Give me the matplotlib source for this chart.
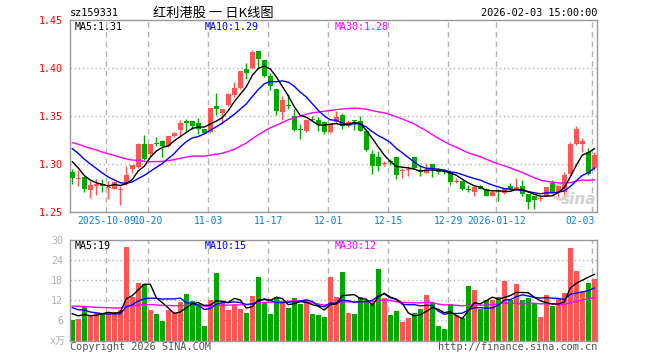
import numpy as np
import pandas as pd
import matplotlib.pyplot as plt

plt.rcParams['font.family'] = ['DejaVu Sans Mono', 'Noto Sans CJK SC']

# daily OHLC, 88 sessions
opens = [1.291, 1.284, 1.286, 1.272, 1.277, 1.279, 1.275, 1.274, 1.272, 1.280,
         1.294, 1.296, 1.321, 1.310, 1.322, 1.324, 1.318, 1.329, 1.335, 1.344,
         1.345, 1.342, 1.336, 1.333, 1.360, 1.353, 1.361, 1.372, 1.379, 1.399,
         1.400, 1.418, 1.408, 1.391, 1.378, 1.354, 1.361, 1.350, 1.3362, 1.334,
         1.347, 1.346, 1.343, 1.333, 1.343, 1.351, 1.339, 1.3448, 1.345, 1.334,
         1.310, 1.307, 1.300, 1.3025, 1.307, 1.292, 1.293, 1.307, 1.293, 1.290,
         1.300, 1.294, 1.2921, 1.290, 1.281, 1.282, 1.274, 1.270, 1.277, 1.274,
         1.266, 1.2718, 1.269, 1.277, 1.273, 1.277, 1.268, 1.266, 1.263, 1.266,
         1.280, 1.270, 1.270, 1.289, 1.321, 1.321, 1.312, 1.295]
highs = [1.294, 1.293, 1.287, 1.282, 1.284, 1.284, 1.282, 1.282, 1.277, 1.298,
         1.299, 1.322, 1.330, 1.321, 1.328, 1.325, 1.329, 1.333, 1.346, 1.347,
         1.345, 1.348, 1.336, 1.358, 1.374, 1.357, 1.374, 1.385, 1.397, 1.405,
         1.419, 1.418, 1.408, 1.395, 1.378, 1.371, 1.373, 1.357, 1.341, 1.347,
         1.350, 1.349, 1.345, 1.341, 1.355, 1.353, 1.346, 1.3452, 1.350, 1.334,
         1.314, 1.313, 1.303, 1.305, 1.307, 1.295, 1.298, 1.307, 1.299, 1.301,
         1.300, 1.295, 1.294, 1.293, 1.285, 1.282, 1.278, 1.276, 1.278, 1.275,
         1.272, 1.274, 1.274, 1.280, 1.285, 1.283, 1.268, 1.266, 1.266, 1.276,
         1.283, 1.277, 1.291, 1.323, 1.339, 1.327, 1.316, 1.312]
lows = [1.279, 1.277, 1.270, 1.264, 1.267, 1.270, 1.263, 1.273, 1.257, 1.278,
        1.290, 1.295, 1.304, 1.308, 1.318, 1.307, 1.317, 1.328, 1.329, 1.333,
        1.336, 1.331, 1.332, 1.332, 1.351, 1.341, 1.360, 1.370, 1.378, 1.388,
        1.399, 1.399, 1.390, 1.377, 1.351, 1.346, 1.357, 1.334, 1.326, 1.333,
        1.345, 1.334, 1.331, 1.332, 1.342, 1.336, 1.338, 1.335, 1.334, 1.313,
        1.289, 1.292, 1.297, 1.299, 1.284, 1.285, 1.287, 1.294, 1.287, 1.290,
        1.286, 1.289, 1.289, 1.278, 1.280, 1.272, 1.270, 1.266, 1.273, 1.266,
        1.266, 1.261, 1.268, 1.273, 1.273, 1.266, 1.253, 1.253, 1.261, 1.266,
        1.270, 1.265, 1.267, 1.288, 1.319, 1.312, 1.288, 1.293]
closes = [1.285, 1.285, 1.273, 1.278, 1.279, 1.277, 1.276, 1.281, 1.273, 1.288,
          1.299, 1.321, 1.305, 1.320, 1.3205, 1.318, 1.329, 1.332, 1.342, 1.342,
          1.339, 1.336, 1.332, 1.358, 1.357, 1.357, 1.373, 1.379, 1.397, 1.395,
          1.417, 1.409, 1.392, 1.381, 1.355, 1.366, 1.360, 1.335, 1.3355, 1.346,
          1.346, 1.340, 1.333, 1.341, 1.349, 1.339, 1.343, 1.344, 1.334, 1.314,
          1.297, 1.298, 1.301, 1.3015, 1.288, 1.293, 1.294, 1.295, 1.291, 1.293,
          1.294, 1.291, 1.2916, 1.281, 1.282, 1.273, 1.272, 1.276, 1.274, 1.266,
          1.270, 1.2712, 1.274, 1.274, 1.276, 1.268, 1.260, 1.262, 1.264, 1.276,
          1.270, 1.277, 1.288, 1.320, 1.336, 1.324, 1.289, 1.309]
# volume, 万
volumes = [6.0, 6.3, 10.0, 7.2, 8.2, 8.2, 8.5, 8.5, 9.0, 28.0,
           13.0, 17.2, 16.8, 9.0, 7.8, 5.7, 9.2, 8.5, 11.5, 13.8,
           11.8, 11.0, 4.2, 12.0, 20.2, 11.2, 9.0, 10.5, 9.5, 8.2,
           13.3, 19.0, 11.2, 8.0, 13.0, 11.5, 9.8, 12.7, 11.0, 12.0,
           8.0, 7.5, 7.0, 19.0, 13.0, 20.5, 8.2, 7.8, 13.0, 12.2,
           11.2, 21.3, 12.7, 7.5, 8.7, 5.5, 6.8, 8.2, 9.3, 13.6,
           11.2, 4.2, 3.3, 10.8, 7.5, 6.8, 16.2, 15.0, 9.3, 12.0,
           12.2, 13.0, 17.8, 12.0, 16.8, 12.0, 12.7, 11.0, 7.0, 13.6,
           10.3, 12.5, 14.2, 27.7, 20.7, 14.8, 17.2, 18.3]
# sessions before the window, only feed the moving averages
prev_closes = [1.338, 1.341, 1.336, 1.333, 1.339, 1.335, 1.330, 1.334, 1.337, 1.332,
               1.336, 1.333, 1.331, 1.318, 1.310, 1.305, 1.300, 1.302, 1.306, 1.308,
               1.335, 1.332, 1.328, 1.326, 1.325, 1.318, 1.312, 1.302, 1.293]
prev_volumes = [9.5, 11.2, 10.8, 12.0, 9.8, 10.4, 11.5, 9.2, 10.0, 11.8,
                10.6, 9.9, 10.3, 11.0, 10.2, 9.6, 11.4, 10.5, 10.8, 10.5,
                12.5, 11.0, 13.0, 10.5, 11.0, 9.5, 8.0, 9.0, 7.5]

tick_pos = [6, 13, 23, 33, 43, 53, 63, 71, 87]
tick_labels = ['2025-10-09', '10-20', '11-03', '11-17', '12-01',
               '12-15', '12-29', '2026-01-12', '02-03']

RED = '#ff5555'
GREEN = '#00a800'
GRID = '#b4b4b4'
W, H = 660, 360


def px_axes(fig, left, top, right, bottom):
    return fig.add_axes([left / W, 1 - bottom / H, (right - left) / W, (bottom - top) / H])


def ftext(fig, x, y, s, **kw):
    kw.setdefault('va', 'center')
    fig.text(x / W, 1 - y / H, s, **kw)


def ma(prev, vals, n):
    s = pd.Series(list(prev) + list(vals)).rolling(n).mean()
    return s.values[len(prev):]


def style_axes(ax):
    for sp in ax.spines.values():
        sp.set_color('#999999')
        sp.set_linewidth(1)
    ax.set_xlim(-0.383, 87.45)
    ax.set_xticks([])
    for p in tick_pos:
        ax.axvline(p - 0.3, color=GRID, lw=1, ls=(0, (4, 3)), zorder=0)
    ax.tick_params(axis='y', length=0, pad=5, labelsize=7.2)


fig = plt.figure(figsize=(W / 100, H / 100), dpi=100)

o = np.array(opens); h = np.array(highs); l = np.array(lows); c = np.array(closes)
x = np.arange(len(c))
up = c >= o
cols = np.where(up, RED, GREEN)

# price panel
ax = px_axes(fig, 70, 20, 597, 211.5)
style_axes(ax)
ax.set_ylim(1.25, 1.45)
for yv in [1.30, 1.35, 1.40]:
    ax.axhline(yv, color=GRID, lw=1, ls=(0, (1, 2)), zorder=0)
ax.set_yticks([1.25, 1.30, 1.35, 1.40, 1.45])
ax.set_yticklabels(['%.2f' % v for v in [1.25, 1.30, 1.35, 1.40, 1.45]], color='#ff0000')

# sina watermark
ax.scatter([81.3], [1.2705], s=120, facecolors='none', edgecolors='#f3c4c4', lw=1.5, zorder=1)
ax.text(0.998, 0.065, 'sina', transform=ax.transAxes, fontsize=11, ha='right', va='center',
        style='italic', weight='bold', color='#d2d2d2', family='DejaVu Sans', zorder=1)

ax.vlines(x, l, h, colors=cols, lw=1, zorder=2)
body_lo = np.minimum(o, c)
body_h = np.maximum(np.abs(c - o), 0.0011)
ax.bar(x, body_h, bottom=body_lo, width=0.8, color=cols, lw=0, zorder=3)

ax.plot(x, ma(prev_closes, closes, 30), color='#ff00ff', lw=1, zorder=4)
ax.plot(x, ma(prev_closes, closes, 10), color='#0000ff', lw=1, zorder=4)
ax.plot(x, ma(prev_closes, closes, 5), color='#000000', lw=1, zorder=4)

for p, lab in zip(tick_pos, tick_labels):
    last = p == tick_pos[-1]
    ax.text(87.0 if last else p - 0.3, -0.05, lab, transform=ax.get_xaxis_transform(),
            ha='right' if last else 'center', va='center', fontsize=7.0, color='#0b80d6')

# volume panel
axv = px_axes(fig, 70, 240, 597, 340.5)
style_axes(axv)
axv.set_ylim(0, 30)
for yv in [6, 12, 18, 24]:
    axv.axhline(yv, color=GRID, lw=1, ls=(0, (1, 2)), zorder=0)
axv.set_yticks([6, 12, 18, 24, 30])
axv.set_yticklabels(['6', '12', '18', '24', '30'], color='#b0b0b0')
axv.bar(x, volumes, width=0.8, color=cols, lw=0, zorder=2)
axv.plot(x, ma(prev_volumes, volumes, 30), color='#ff00ff', lw=1, zorder=4)
axv.plot(x, ma(prev_volumes, volumes, 10), color='#0000ff', lw=1, zorder=4)
axv.plot(x, ma(prev_volumes, volumes, 5), color='#000000', lw=1, zorder=4)

# header and labels
ftext(fig, 70, 13, 'sz159331', fontsize=7.4, color='#000000')
ftext(fig, 213, 13, '红利港股 一 日K线图', fontsize=9.5, ha='center', color='#000000',
      family=['Noto Sans CJK SC', 'DejaVu Sans'])
ftext(fig, 597, 13, '2026-02-03 15:00:00', fontsize=7.4, ha='right', color='#000000')
ftext(fig, 75, 27, 'MA5:1.31', fontsize=7.2, color='#000000')
ftext(fig, 205, 27, 'MA10:1.29', fontsize=7.2, color='#0000ff')
ftext(fig, 335, 27, 'MA30:1.28', fontsize=7.2, color='#ff00ff')
ftext(fig, 75, 246, 'MA5:19', fontsize=7.2, color='#000000')
ftext(fig, 205, 246, 'MA10:15', fontsize=7.2, color='#0000ff')
ftext(fig, 335, 246, 'MA30:12', fontsize=7.2, color='#ff00ff')
ftext(fig, 66, 341, 'x万', fontsize=7.2, ha='right', color='#b0b0b0')
ftext(fig, 70, 347, 'Copyright 2026 SINA.COM', fontsize=7.4, color='#555555')
ftext(fig, 597, 347, 'http://finance.sina.com.cn', fontsize=7.4, ha='right', color='#555555')

fig.savefig('out.png', dpi=100)
